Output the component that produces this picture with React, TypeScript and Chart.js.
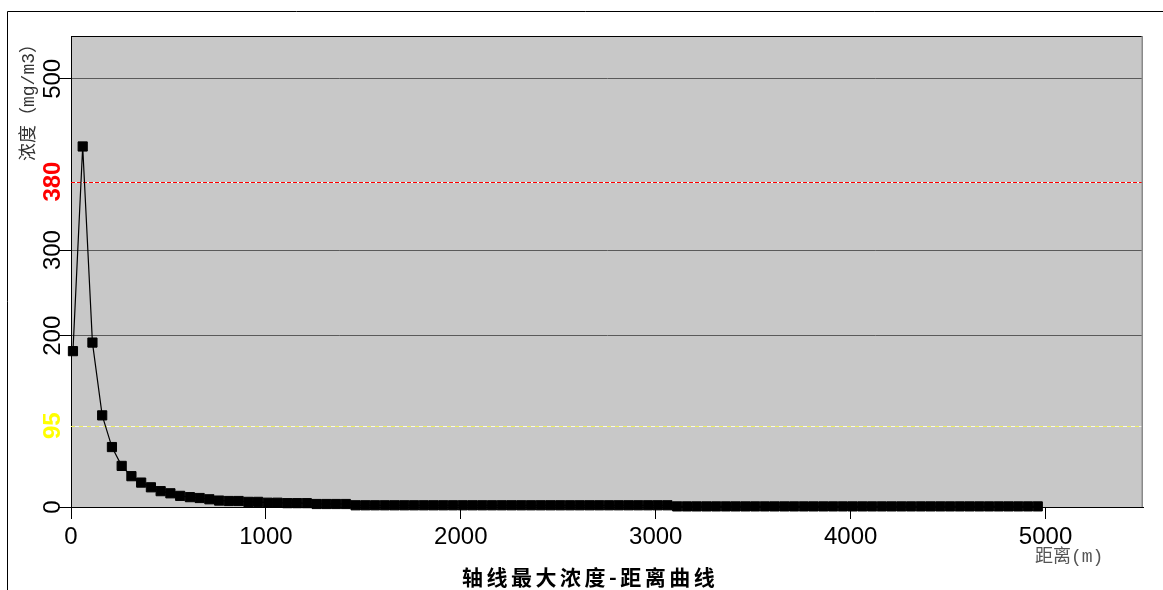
import React, { useEffect, useRef } from "react";
import { Chart, registerables } from "chart.js";

Chart.register(...registerables);

// ---- data ----
const distances = [
  10, 60, 110, 160, 210, 260, 310, 360, 410, 460,
  510, 560, 610, 660, 710, 760, 810, 860, 910, 960,
  1010, 1060, 1110, 1160, 1210, 1260, 1310, 1360, 1410, 1460,
  1510, 1560, 1610, 1660, 1710, 1760, 1810, 1860, 1910, 1960,
  2010, 2060, 2110, 2160, 2210, 2260, 2310, 2360, 2410, 2460,
  2510, 2560, 2610, 2660, 2710, 2760, 2810, 2860, 2910, 2960,
  3010, 3060, 3110, 3160, 3210, 3260, 3310, 3360, 3410, 3460,
  3510, 3560, 3610, 3660, 3710, 3760, 3810, 3860, 3910, 3960,
  4010, 4060, 4110, 4160, 4210, 4260, 4310, 4360, 4410, 4460,
  4510, 4560, 4610, 4660, 4710, 4760, 4810, 4860, 4910, 4960,
];

const concentrations = [
  182, 421, 192, 107, 70, 48, 36, 28.5, 23, 18.5,
  16, 13, 11.5, 10.5, 9, 7.5, 7, 7, 6, 6,
  5, 5, 4.5, 4.5, 4.5, 3.5, 3.5, 3.5, 3.5, 2,
  2, 2, 2, 2, 2, 2, 2, 2, 2, 2,
  2, 2, 2, 2, 2, 2, 2, 2, 2, 2,
  2, 2, 2, 2, 2, 2, 2, 2, 2, 2,
  2, 2, 0.7, 0.7, 0.7, 0.7, 0.7, 0.7, 0.7, 0.7,
  0.7, 0.7, 0.7, 0.7, 0.7, 0.7, 0.7, 0.7, 0.7, 0.7,
  0.7, 0.7, 0.7, 0.7, 0.7, 0.7, 0.7, 0.7, 0.7, 0.7,
  0.7, 0.7, 0.7, 0.7, 0.7, 0.7, 0.7, 0.7, 0.7, 0.7,
];

const xTickValues = [0, 1000, 2000, 3000, 4000, 5000];
const xTickLabels = ["0", "1000", "2000", "3000", "4000", "5000"];
const yTickValues = [0, 95, 200, 300, 380, 500];
const yTickLabels = ["0", "95", "200", "300", "380", "500"];
const thresholdValues = [380, 95];

const chartTitle = "轴线最大浓度-距离曲线";
const xAxisTitle = "距离(m)";
const yAxisTitle = "浓度（mg/m3）";

const isThreshold = (v: number) => thresholdValues.indexOf(v) >= 0;

const labelStyle = (v: number) => {
  if (v === 380) return { color: "#ff0000", weight: "bold" };
  if (v === 95) return { color: "#ffff00", weight: "bold" };
  return { color: "#000000", weight: "normal" };
};

const customPlugin = {
  id: "customDraw",
  beforeDraw(chart: any) {
    const { ctx, chartArea } = chart;
    const { left, top, right, bottom } = chartArea;
    ctx.save();
    ctx.fillStyle = "#ffffff";
    ctx.fillRect(0, 0, chart.width, chart.height);
    ctx.fillStyle = "#c8c8c8";
    ctx.fillRect(left, top, right - left, bottom - top);
    ctx.restore();
  },
  beforeDatasetsDraw(chart: any) {
    const { ctx, chartArea } = chart;
    const { left, top, right } = chartArea;
    const ys = chart.scales.y;
    ctx.save();
    // threshold lines
    thresholdValues.forEach((v) => {
      const py = Math.round(ys.getPixelForValue(v)) + 0.5;
      ctx.lineWidth = 1;
      ctx.setLineDash([]);
      ctx.strokeStyle = v === 380 ? "#ffffff" : "#f6f6ee";
      ctx.beginPath();
      ctx.moveTo(left, py);
      ctx.lineTo(right, py);
      ctx.stroke();
      ctx.setLineDash(v === 380 ? [4, 2] : [4, 4]);
      ctx.strokeStyle = v === 380 ? "#ff0000" : "#f0f060";
      ctx.beginPath();
      ctx.moveTo(left, py);
      ctx.lineTo(right, py);
      ctx.stroke();
    });
    ctx.setLineDash([]);
    // top border
    ctx.strokeStyle = "#000000";
    ctx.lineWidth = 1;
    ctx.beginPath();
    ctx.moveTo(left, top + 0.5);
    ctx.lineTo(right, top + 0.5);
    ctx.stroke();
    // right border
    ctx.strokeStyle = "#8a8a8a";
    ctx.lineWidth = 1.5;
    ctx.beginPath();
    ctx.moveTo(right - 0.75, top);
    ctx.lineTo(right - 0.75, chartArea.bottom);
    ctx.stroke();
    ctx.restore();
  },
  afterDraw(chart: any) {
    const { ctx } = chart;
    const ys = chart.scales.y;
    ctx.save();
    // y tick labels (rotated)
    yTickValues.forEach((v, i) => {
      const py = ys.getPixelForValue(v);
      const st = labelStyle(v);
      ctx.save();
      ctx.translate(60, py);
      ctx.rotate(-Math.PI / 2);
      ctx.font = `${st.weight} 24px "Liberation Sans", Arial, sans-serif`;
      ctx.fillStyle = st.color;
      ctx.textAlign = "center";
      ctx.textBaseline = "alphabetic";
      ctx.fillText(yTickLabels[i], 0, 0);
      ctx.restore();
    });
    // y axis title
    ctx.save();
    ctx.translate(34, 98);
    ctx.rotate(-Math.PI / 2);
    ctx.font = `18px "Liberation Mono", "Noto Sans CJK SC", sans-serif`;
    ctx.fillStyle = "#333333";
    ctx.textAlign = "center";
    ctx.textBaseline = "alphabetic";
    ctx.fillText(yAxisTitle, 0, 0);
    ctx.restore();
    // x axis title
    ctx.font = `18px "Liberation Mono", "Noto Sans CJK SC", sans-serif`;
    ctx.fillStyle = "#555555";
    ctx.textAlign = "left";
    ctx.textBaseline = "alphabetic";
    ctx.fillText(xAxisTitle, 1035, 562);
    // chart title
    ctx.font = `bold 21px "Noto Sans CJK SC", sans-serif`;
    ctx.fillStyle = "#000000";
    (ctx as any).letterSpacing = "3.5px";
    ctx.textAlign = "left";
    ctx.fillText(chartTitle, 462, 585);
    (ctx as any).letterSpacing = "0px";
    // outer frame
    ctx.strokeStyle = "#000000";
    ctx.lineWidth = 1;
    ctx.beginPath();
    ctx.moveTo(7.5, chart.height + 5);
    ctx.lineTo(7.5, 11.5);
    ctx.lineTo(chart.width + 5, 11.5);
    ctx.stroke();
    ctx.restore();
  },
};

export default function App() {
  const canvasRef = useRef<HTMLCanvasElement | null>(null);

  useEffect(() => {
    const canvas = canvasRef.current;
    if (!canvas) return;
    const points = distances.map((d, i) => ({ x: d, y: concentrations[i] }));
    const chart = new Chart(canvas, {
      type: "line",
      data: {
        datasets: [
          {
            data: points,
            borderColor: "#000000",
            borderWidth: 1.2,
            backgroundColor: "#000000",
            pointStyle: "rect",
            pointRadius: 6.5,
            pointBorderWidth: 1,
            pointBorderColor: "#000000",
            pointBackgroundColor: "#000000",
            tension: 0,
            clip: false as any,
          },
        ],
      },
      options: {
        animation: false,
        responsive: false,
        maintainAspectRatio: false,
        layout: { padding: { top: 36, right: 20, left: 0, bottom: 0 } },
        plugins: {
          legend: { display: false },
          tooltip: { enabled: false },
          title: { display: false },
        },
        scales: {
          x: {
            type: "linear",
            min: 0,
            max: 5500,
            afterBuildTicks: (scale: any) => {
              scale.ticks = xTickValues.map((v) => ({ value: v }));
            },
            afterFit: (scale: any) => {
              scale.height = 83;
            },
            ticks: {
              color: "#000000",
              padding: 4,
              maxRotation: 0,
              minRotation: 0,
              callback: (value: any) => {
                const idx = xTickValues.indexOf(Number(value));
                return idx >= 0 ? xTickLabels[idx] : String(value);
              },
              font: { size: 24, family: '"Liberation Sans", Arial, sans-serif' },
            },
            grid: {
              drawOnChartArea: false,
              drawTicks: true,
              tickLength: 12,
              tickColor: "#000000",
              tickWidth: 1,
            },
            border: { display: true, color: "#000000", width: 1 },
          },
          y: {
            type: "linear",
            min: 0,
            max: 550,
            afterBuildTicks: (scale: any) => {
              scale.ticks = yTickValues.map((v) => ({ value: v }));
            },
            afterFit: (scale: any) => {
              scale.width = 71;
            },
            ticks: { display: false },
            grid: {
              drawTicks: true,
              tickLength: 13,
              color: (c: any) =>
                c.tick && isThreshold(c.tick.value)
                  ? "rgba(0,0,0,0)"
                  : c.tick && c.tick.value === 0
                  ? "#000000"
                  : "#5a5a5a",
              tickColor: (c: any) =>
                c.tick && isThreshold(c.tick.value) ? "rgba(0,0,0,0)" : "#000000",
              lineWidth: 1,
            },
            border: { display: true, color: "#000000", width: 1 },
          },
        },
      },
      plugins: [customPlugin],
    });
    return () => chart.destroy();
  }, []);

  return (
    <div style={{ position: "absolute", left: 0, top: 0, width: 1163, height: 590 }}>
      <canvas ref={canvasRef} width={1163} height={590} style={{ display: "block" }} />
    </div>
  );
}
